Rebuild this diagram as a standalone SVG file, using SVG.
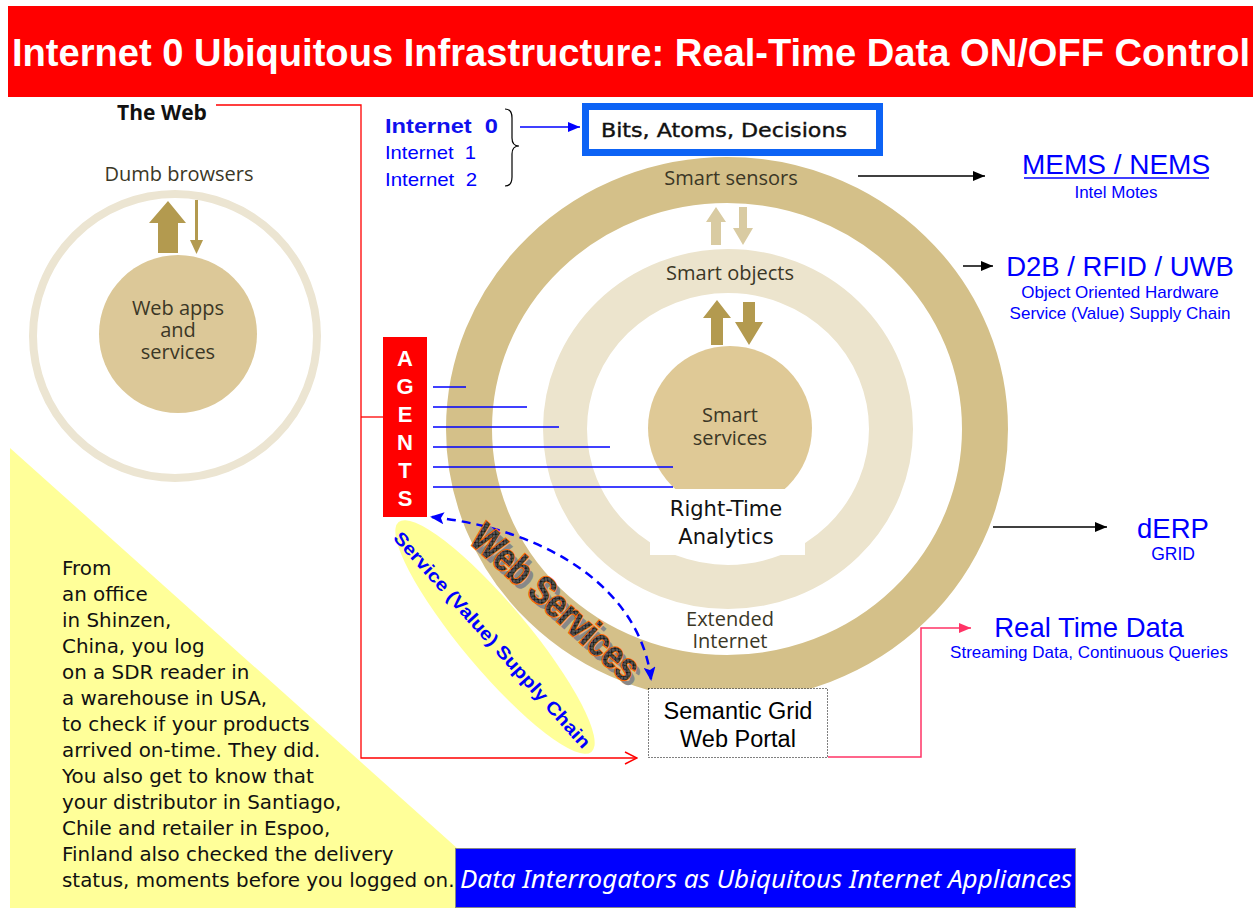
<svg xmlns="http://www.w3.org/2000/svg" width="1260" height="922" viewBox="0 0 1260 922">
<defs>
<style>
.hum{font-family:"Open Sans","Noto Sans",sans-serif;fill:#3b3726;font-size:20px;text-anchor:middle}
.bl{font-family:"Liberation Sans",Arial,sans-serif;fill:#0000ff;text-anchor:middle}
.ag{font-family:"Liberation Sans",Arial,sans-serif;font-weight:bold;font-size:22px;fill:#fff;text-anchor:middle}
.para{font-family:"DejaVu Sans","Noto Sans",sans-serif;font-size:19.9px;fill:#111}
.blk{stroke:#000;stroke-width:1.5;fill:none}
.agl{stroke:#0000ff;stroke-width:1.3}
.dark{fill:#b39a4f}
.lite{fill:#d9cba2}
.sans{font-family:"Liberation Sans",Arial,sans-serif}
</style>
<marker id="ab" viewBox="0 0 12 10" refX="12" refY="5" markerWidth="12" markerHeight="10" markerUnits="userSpaceOnUse" orient="auto"><path d="M0,0 L12,5 L0,10 z" fill="#000"/></marker>
<marker id="abl" viewBox="0 0 12 10" refX="12" refY="5" markerWidth="12" markerHeight="10" markerUnits="userSpaceOnUse" orient="auto"><path d="M0,0 L12,5 L0,10 z" fill="#0000ff"/></marker>
<marker id="adash" viewBox="0 0 14 12" refX="12" refY="6" markerWidth="14" markerHeight="12" markerUnits="userSpaceOnUse" orient="auto-start-reverse"><path d="M0,0 L14,6 L0,12 L3,6 z" fill="#0000ff"/></marker>
<marker id="apk" viewBox="0 0 12 10" refX="12" refY="5" markerWidth="12" markerHeight="10" markerUnits="userSpaceOnUse" orient="auto"><path d="M0,0 L12,5 L0,10 z" fill="#ff3366"/></marker>
<marker id="ared" viewBox="0 0 14 14" refX="13" refY="7" markerWidth="14" markerHeight="14" markerUnits="userSpaceOnUse" orient="auto"><path d="M1,1 L13,7 L1,13" fill="none" stroke="#ff0000" stroke-width="1.5"/></marker>
<pattern id="hatch" width="5" height="5" patternUnits="userSpaceOnUse"><rect width="5" height="5" fill="#555"/><path d="M0,0 L5,5 M5,0 L0,5" stroke="#1a1a1a" stroke-width="1"/></pattern>
</defs>

<rect width="1260" height="922" fill="#fff"/>

<!-- title -->
<g id="title">
<rect x="8" y="6" width="1245" height="91" fill="#ff0000"/>
<text x="12" y="66" class="sans" font-size="38" font-weight="bold" fill="#fff" textLength="1238" lengthAdjust="spacingAndGlyphs">Internet 0 Ubiquitous Infrastructure: Real-Time Data ON/OFF Control</text>
</g>

<!-- yellow triangle -->
<polygon points="10,448 524,908 10,908" fill="#ffff99"/>

<!-- left web diagram -->
<g id="theweb">
<text x="162" y="120" font-family="'Open Sans','Noto Sans',sans-serif" font-weight="bold" font-size="21" fill="#111" text-anchor="middle">The Web</text>
<text x="179" y="181" class="hum">Dumb browsers</text>
<circle cx="175" cy="336" r="142" fill="none" stroke="#ece5d2" stroke-width="8"/>
<circle cx="178" cy="334" r="79" fill="#dcc898"/>
<text x="178" y="315" class="hum" font-size="21.5">Web apps</text>
<text x="178" y="337" class="hum" font-size="21.5">and</text>
<text x="178" y="359" class="hum" font-size="21.5">services</text>
<polygon class="dark" points="158,253 178,253 178,223 186,223 168,201 149,223 158,223"/>
<rect class="dark" x="195" y="200" width="3" height="41"/>
<polygon class="dark" points="190,240 203,240 196.5,254"/>
</g>

<!-- main rings -->
<g id="rings">
<ellipse cx="727" cy="429" rx="258" ry="249" fill="none" stroke="#d4c089" stroke-width="46"/>
<ellipse cx="728" cy="429" rx="163" ry="158" fill="none" stroke="#ece4cd" stroke-width="44"/>
<circle cx="730" cy="428" r="82" fill="#dfc996"/>
</g>

<g id="smart-sensors">
<text x="731" y="185" class="hum">Smart sensors</text>
</g>
<g id="smart-objects">
<text x="730" y="280" class="hum">Smart objects</text>
</g>
<g id="ring-arrows">
<polygon class="lite" points="711,245 721,245 721,222 726,222 716,207 706,222 711,222"/>
<polygon class="lite" points="739,207 747,207 747,228 753,228 743,245 733,228 739,228"/>
<polygon class="dark" points="711,345 723,345 723,318 731,318 717,300 703,318 711,318"/>
<polygon class="dark" points="743,302 755,302 755,322 763,322 749,345 735,322 743,322"/>
</g>
<g id="smart-services">
<text x="730" y="422" class="hum" font-size="22">Smart</text>
<text x="730" y="445" class="hum" font-size="22">services</text>
</g>
<g id="extended-internet">
<text x="730" y="626" class="hum" font-size="21" fill="#4a4a4a">Extended</text>
<text x="730" y="648" class="hum" font-size="21" fill="#4a4a4a">Internet</text>
</g>

<!-- connectors -->
<g id="connectors">
<path d="M216,105 H361 V758 H637" fill="none" stroke="#ff0000" stroke-width="1.3" marker-end="url(#ared)"/>
<path d="M361,417 H383" stroke="#ff0000" stroke-width="1.3"/>
<line class="agl" x1="433" y1="387" x2="466" y2="387"/>
<line class="agl" x1="433" y1="407" x2="527" y2="407"/>
<line class="agl" x1="433" y1="427" x2="559" y2="427"/>
<line class="agl" x1="433" y1="447" x2="610" y2="447"/>
<line class="agl" x1="433" y1="467" x2="673" y2="467"/>
<line class="agl" x1="433" y1="487" x2="673" y2="487"/>
<line x1="520" y1="127" x2="580" y2="127" stroke="#0000ff" stroke-width="1.3" marker-end="url(#abl)"/>
<path d="M505,109 Q512,109 512,118 V138 Q512,146 519,146 Q512,146 512,154 V177 Q512,186 505,186" fill="none" stroke="#000" stroke-width="1.2"/>
<line class="blk" x1="858" y1="176" x2="985" y2="176" marker-end="url(#ab)"/>
<line class="blk" x1="963" y1="266" x2="993" y2="266" marker-end="url(#ab)"/>
<line class="blk" x1="993" y1="527" x2="1107" y2="527" marker-end="url(#ab)"/>
<path d="M828,757 H921 V628 H971" fill="none" stroke="#ff3366" stroke-width="1.5" marker-end="url(#apk)"/>
<path d="M432,517 C550,530 640,590 651,679" fill="none" stroke="#0000ff" stroke-width="2.5" stroke-dasharray="9,6" marker-start="url(#adash)" marker-end="url(#adash)"/>
</g>

<!-- internet labels -->
<g id="internet">
<text x="385" y="133" class="sans" font-size="21" font-weight="bold" fill="#1010ee" textLength="113" lengthAdjust="spacingAndGlyphs" xml:space="preserve">Internet  0</text>
<text x="385" y="159" class="sans" font-size="18.5" fill="#0000ff" textLength="91" lengthAdjust="spacingAndGlyphs" xml:space="preserve">Internet  1</text>
<text x="385" y="186" class="sans" font-size="18.5" fill="#0000ff" textLength="92" lengthAdjust="spacingAndGlyphs" xml:space="preserve">Internet  2</text>
</g>

<g id="bits">
<rect x="585.5" y="106.5" width="294" height="46" fill="#fff" stroke="#0d63f5" stroke-width="7"/>
<text x="601" y="137" font-family="'DejaVu Sans','Noto Sans',sans-serif" font-size="20" fill="#111" stroke="#111" stroke-width="0.4" textLength="246" lengthAdjust="spacingAndGlyphs">Bits, Atoms, Decisions</text>
</g>

<g id="mems">
<text x="1116" y="174" class="bl" font-size="28">MEMS / NEMS</text>
<line x1="1024" y1="178" x2="1209" y2="178" stroke="#0000ff" stroke-width="1.4"/>
<text x="1116" y="198" class="bl" font-size="17">Intel Motes</text>
</g>
<g id="d2b">
<text x="1120" y="276" class="bl" font-size="27.5">D2B / RFID / UWB</text>
<text x="1120" y="298" class="bl" font-size="17">Object Oriented Hardware</text>
<text x="1120" y="319" class="bl" font-size="17">Service (Value) Supply Chain</text>
</g>
<g id="derp">
<text x="1173" y="538" class="bl" font-size="27.5">dERP</text>
<text x="1173" y="560" class="bl" font-size="17.5">GRID</text>
</g>
<g id="realtime">
<text x="1089" y="637" class="bl" font-size="27.5">Real Time Data</text>
<text x="1089" y="658" class="bl" font-size="17">Streaming Data, Continuous Queries</text>
</g>

<g id="agents">
<rect x="383" y="337" width="44" height="180" fill="#ff0000"/>
<text x="405" y="366" class="ag">A</text>
<text x="405" y="394" class="ag">G</text>
<text x="405" y="422" class="ag">E</text>
<text x="405" y="450" class="ag">N</text>
<text x="405" y="478" class="ag">T</text>
<text x="405" y="506" class="ag">S</text>
</g>

<g id="right-time">
<rect x="650" y="489" width="155" height="66" fill="#fff"/>
<text x="726" y="516" font-family="'DejaVu Sans','Noto Sans',sans-serif" font-size="21" fill="#111" text-anchor="middle">Right-Time</text>
<text x="726" y="544" font-family="'DejaVu Sans','Noto Sans',sans-serif" font-size="21" fill="#111" text-anchor="middle">Analytics</text>
</g>

<g id="semantic">
<rect x="648.5" y="688.5" width="179" height="69" fill="#fff" stroke="#000" stroke-width="1" stroke-dasharray="1,2"/>
<text x="738" y="719" class="sans" font-size="23.5" fill="#000" text-anchor="middle">Semantic Grid</text>
<text x="738" y="747" class="sans" font-size="23.5" fill="#000" text-anchor="middle">Web Portal</text>
</g>

<g id="supply-chain">
<ellipse cx="0" cy="0" rx="150" ry="33" fill="#ffff99" transform="translate(495,637) rotate(50)"/>
<text x="0" y="6" class="sans" font-size="18" font-weight="bold" fill="#0000ff" text-anchor="middle" textLength="284" lengthAdjust="spacingAndGlyphs" transform="translate(492,640) rotate(48)">Service (Value) Supply Chain</text>
</g>

<g id="web-services">
<text x="0" y="14" class="sans" font-size="40" font-weight="bold" fill="#888" text-anchor="middle" textLength="212" lengthAdjust="spacingAndGlyphs" transform="translate(560,607) rotate(42)">Web Services</text>
<text x="0" y="14" class="sans" font-size="40" font-weight="bold" fill="url(#hatch)" stroke="#ff6600" stroke-width="2.2" paint-order="stroke" text-anchor="middle" textLength="212" lengthAdjust="spacingAndGlyphs" transform="translate(556,602) rotate(42)">Web Services</text>
</g>

<g id="story">
<text class="para" x="62" y="575">From</text>
<text class="para" x="62" y="601">an office</text>
<text class="para" x="62" y="627">in Shinzen,</text>
<text class="para" x="62" y="653">China, you log</text>
<text class="para" x="62" y="679">on a SDR reader in</text>
<text class="para" x="62" y="705">a warehouse in USA,</text>
<text class="para" x="62" y="731">to check if your products</text>
<text class="para" x="62" y="757">arrived on-time. They did.</text>
<text class="para" x="62" y="783">You also get to know that</text>
<text class="para" x="62" y="809">your distributor in Santiago,</text>
<text class="para" x="62" y="835">Chile and retailer in Espoo,</text>
<text class="para" x="62" y="861">Finland also checked the delivery</text>
<text class="para" x="62" y="887">status, moments before you logged on.</text>
</g>

<g id="interrogators">
<rect x="455.5" y="848.5" width="620" height="59" fill="#0000ff" stroke="#888" stroke-width="1"/>
<text x="460" y="888" font-family="'Noto Sans','Open Sans',sans-serif" font-style="italic" font-size="25" fill="#fff" textLength="612" lengthAdjust="spacingAndGlyphs">Data Interrogators as Ubiquitous Internet Appliances</text>
</g>
</svg>
